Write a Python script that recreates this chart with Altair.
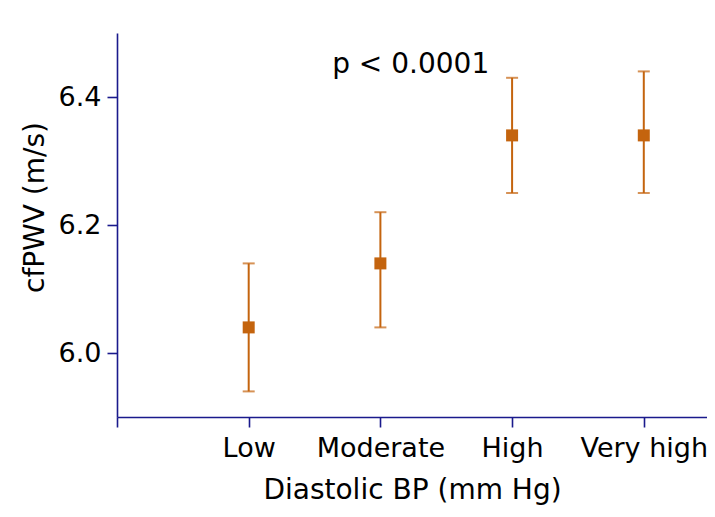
import altair as alt
import pandas as pd

categories = ["Low", "Moderate", "High", "Very high"]
means = [6.04, 6.14, 6.34, 6.34]
lower = [5.94, 6.04, 6.25, 6.25]
upper = [6.14, 6.22, 6.43, 6.44]
annotation = ["p < 0.0001"]

df = pd.DataFrame({
    "pos": list(range(1, len(categories) + 1)),
    "cat": categories,
    "mean": means,
    "lo": lower,
    "hi": upper,
})
ann = pd.DataFrame({"x": [2.23], "y": [6.45], "t": annotation})

label_expr = "{" + ",".join(f"'{i+1}':'{c}'" for i, c in enumerate(categories)) + "}[datum.value] || ''"

AXIS_COLOR = "#1a1a8c"
ORANGE = "#c4640e"
FONT = "DejaVu Sans"
LFS = 27
TFS = 28

xs = alt.Scale(domain=[0, 4.48], nice=False, zero=False)
ys = alt.Scale(domain=[5.9, 6.5], nice=False, zero=False)

xenc = alt.X("pos:Q", scale=xs,
             axis=alt.Axis(values=[0, 1, 2, 3, 4], labelExpr=label_expr,
                           title="Diastolic BP (mm Hg)", grid=False,
                           domainColor=AXIS_COLOR, tickColor=AXIS_COLOR,
                           tickSize=10, domainWidth=1.6, tickWidth=1.6,
                           labelFontSize=LFS, titleFontSize=TFS, labelFont=FONT, titleFont=FONT,
                           labelColor="black", titleColor="black", labelPadding=8,
                           titlePadding=15, titleFontWeight="normal", labelFlush=False,
                           labelOverlap=False))
yenc = alt.Y("mean:Q", scale=ys,
             axis=alt.Axis(values=[6.0, 6.2, 6.4], format=".1f",
                           title="cfPWV (m/s)", grid=False,
                           domainColor=AXIS_COLOR, tickColor=AXIS_COLOR,
                           tickSize=10, domainWidth=1.6, tickWidth=1.6,
                           labelFontSize=LFS, titleFontSize=TFS, labelFont=FONT, titleFont=FONT,
                           labelColor="black", titleColor="black", labelPadding=6,
                           titleX=-74, titleY=174, titleAlign="center",
                           titleBaseline="alphabetic", titleAngle=270,
                           titleFontWeight="normal"))

base = alt.Chart(df)
rules = base.mark_rule(color=ORANGE, strokeWidth=2).encode(
    x=xenc, y=alt.Y("lo:Q", scale=ys), y2="hi:Q")
cap_lo = base.mark_tick(color=ORANGE, orient="horizontal", size=12, thickness=2).encode(
    x=alt.X("pos:Q", scale=xs), y=alt.Y("lo:Q", scale=ys))
cap_hi = base.mark_tick(color=ORANGE, orient="horizontal", size=12, thickness=2).encode(
    x=alt.X("pos:Q", scale=xs), y=alt.Y("hi:Q", scale=ys))
points = base.mark_square(color=ORANGE, size=144, opacity=1, filled=True).encode(
    x=alt.X("pos:Q", scale=xs), y=yenc)
text = alt.Chart(ann).mark_text(fontSize=TFS, font=FONT, color="black").encode(
    x=alt.X("x:Q", scale=xs), y=alt.Y("y:Q", scale=ys), text="t:N")

chart = alt.layer(rules, cap_lo, cap_hi, points, text).properties(
    width=590, height=384,
    background="white",
    autosize=alt.AutoSizeParams(type="none"),
    padding={"left": 109, "top": 25, "right": 0, "bottom": 92},
).configure_view(stroke=None)

chart.save("out.html", embed_options={"renderer": "svg", "actions": False})
